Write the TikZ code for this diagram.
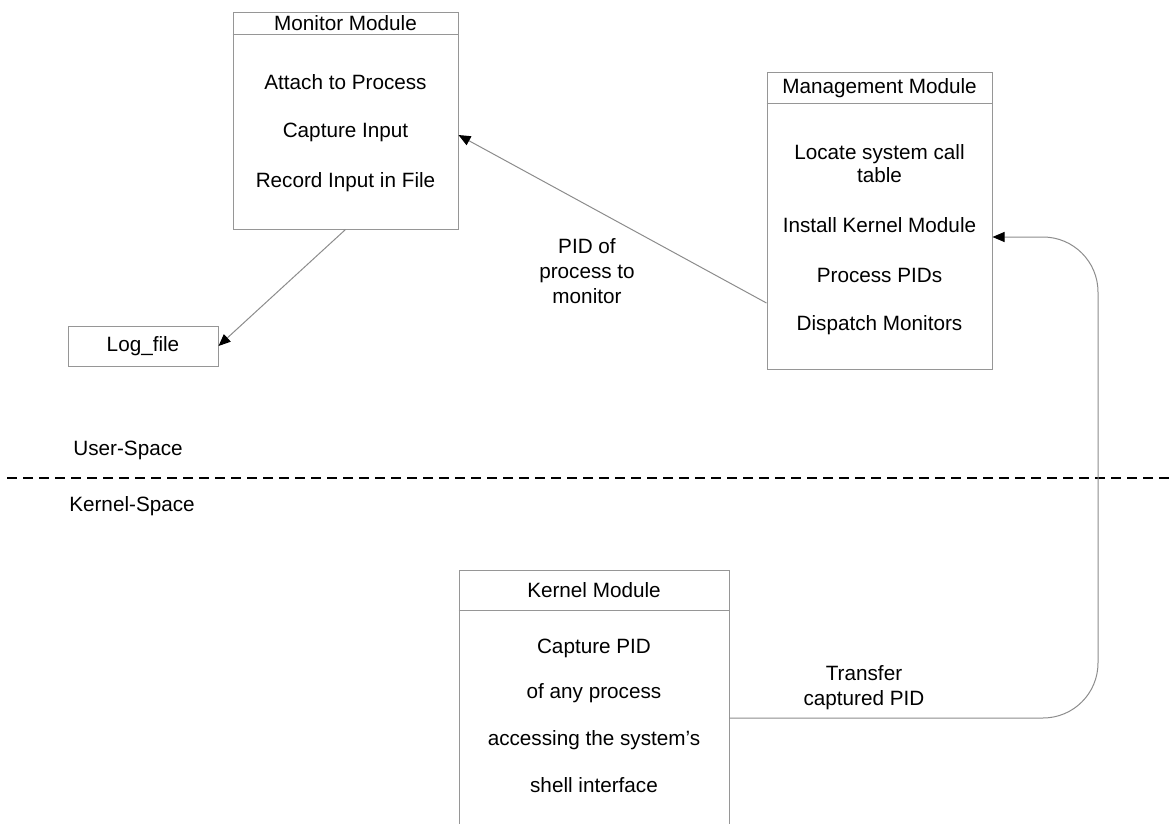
\documentclass[tikz,border=0pt]{standalone}
\usepackage{fontspec}
\setmainfont{Liberation Sans}
\usetikzlibrary{arrows.meta}
\definecolor{boxgray}{RGB}{150,150,150}
\definecolor{linegray}{RGB}{140,140,140}

\begin{document}
\begin{tikzpicture}[x = 1pt, y = -1pt, font = \fontsize{20.7pt}{25pt}\selectfont]
\tikzstyle{boxStyle} = [draw = boxgray, line width = 1pt, inner sep = 0pt]
\tikzstyle{sepStyle} = [draw = boxgray, line width = 1pt]
\tikzstyle{textStyle} = [inner sep = 0pt, align = center]
\tikzstyle{edgeStyle} = [draw = linegray, line width = 1pt, -{Triangle[length = 12pt, width = 10pt, color = black]}]
\clip (0,0) rectangle (1171,823);
\node[boxStyle, minimum width = 225pt, minimum height = 217pt] (monitor) at (345.5,120.5) {};
\node[boxStyle, minimum width = 225pt, minimum height = 297pt] (mgmt) at (879.5,220.5) {};
\node[boxStyle, minimum width = 270pt, minimum height = 330pt] (kernel) at (594,735) {};
\node[boxStyle, minimum width = 150pt, minimum height = 40pt] (logfile) at (143,346) {Log\_file};
\draw[sepStyle] (monitor.north west) ++(0,23) -- ++(225,0);
\draw[sepStyle] (mgmt.north west) ++(0,32) -- ++(225,0);
\draw[sepStyle] (kernel.north west) ++(0,41) -- ++(270,0);
\node[textStyle] (monTitle) at (345.5,23.5) {Monitor Module};
\node[textStyle] (monA) at (345.5,82) {Attach to Process};
\node[textStyle] (monB) at (345.5,132) {Capture Input};
\node[textStyle] (monC) at (345.5,182) {Record Input in File};
\node[textStyle] (mgmtTitle) at (879.5,88) {Management Module};
\node[textStyle, font = \fontsize{20.7pt}{23pt}\selectfont] (mgmtA) at (879.5,164) {Locate system call\\table};
\node[textStyle] (mgmtB) at (879.5,225) {Install Kernel Module};
\node[textStyle] (mgmtC) at (879.5,275) {Process PIDs};
\node[textStyle] (mgmtD) at (879.5,325) {Dispatch Monitors};
\node[textStyle] (kernelTitle) at (594,590) {Kernel Module};
\node[textStyle] (kernelA) at (594,648) {Capture PID};
\node[textStyle] (kernelB) at (594,693) {of any process};
\node[textStyle] (kernelC) at (594,740) {accessing the system’s};
\node[textStyle] (kernelD) at (594,785) {shell interface};
\node[textStyle] (pidLabel) at (587,271) {PID of\\process to\\monitor};
\node[textStyle] (transferLabel) at (864,688) {Transfer\\captured PID};
\node[textStyle] (userSpace) at (128,450) {User-Space};
\node[textStyle] (kernelSpace) at (132,506) {Kernel-Space};
\coordinate (divL) at (7,478);
\coordinate (divR) at (1171,478);
\coordinate (bend) at (1098,478);
\draw[line width = 1.5pt, dash pattern = on 10pt off 6pt] (divL) -- (divR);
\draw[edgeStyle] (monitor.south) -- (logfile.east);
\draw[edgeStyle] ([yshift = -82.5pt]mgmt.west) -- ([yshift = -14.5pt]monitor.east);
\draw[edgeStyle, rounded corners = 55pt] ([yshift = 17pt]kernel.east) -| (bend) |- ([yshift = -16.5pt]mgmt.east);
\end{tikzpicture}
\end{document}
